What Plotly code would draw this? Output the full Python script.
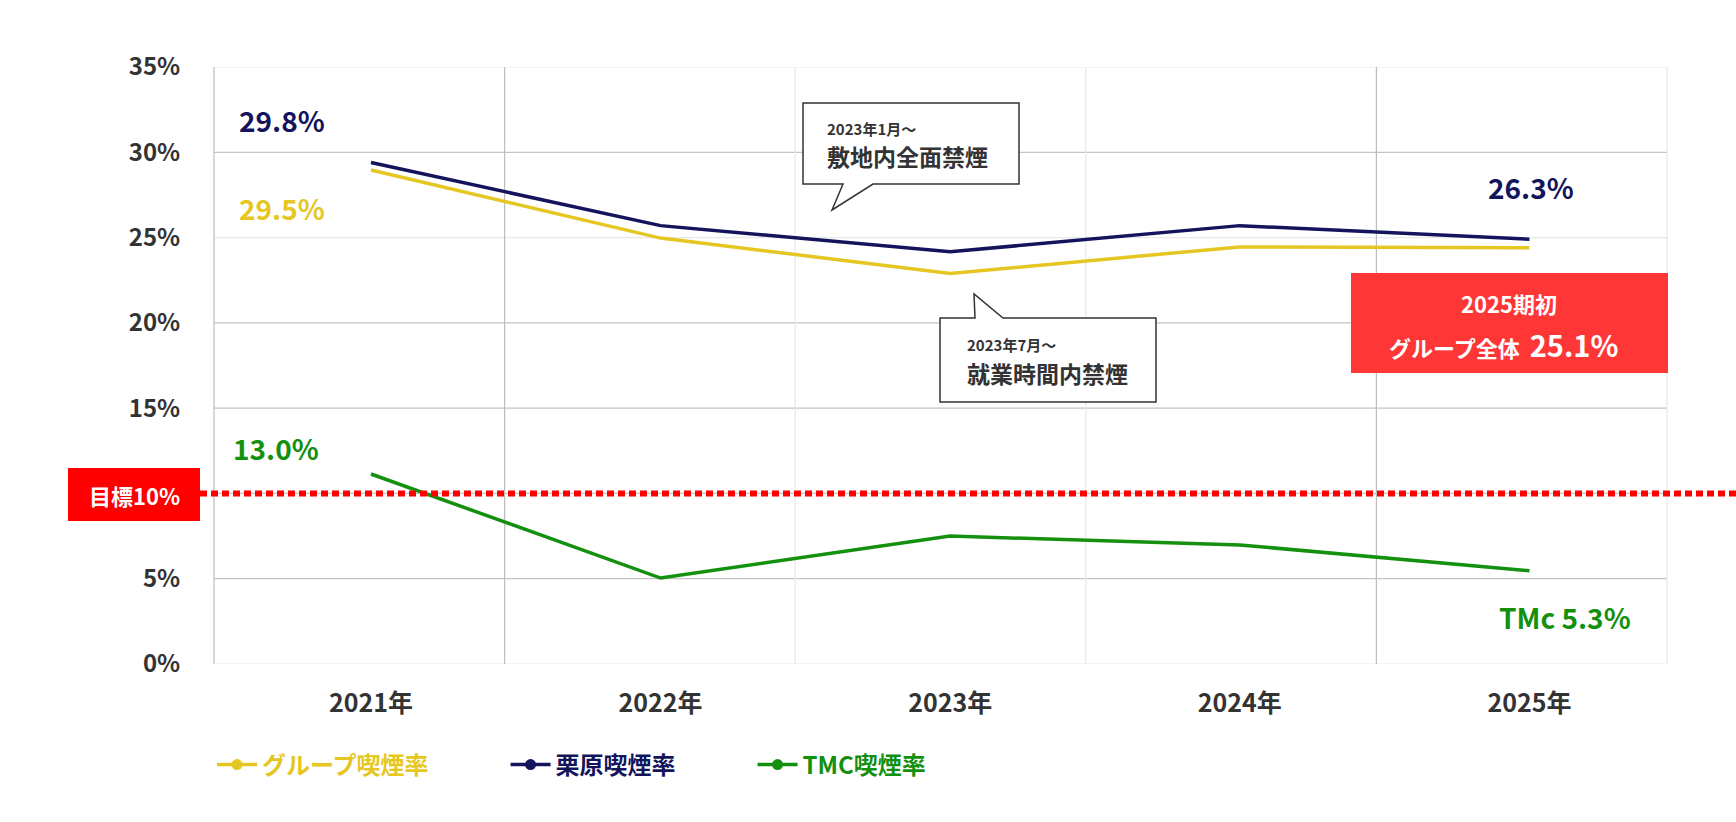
import plotly.graph_objects as go

# ---------------- data ----------------
years = ["2021年", "2022年", "2023年", "2024年", "2025年"]
group_rate = [28.96, 24.97, 22.9, 24.45, 24.4]
kurihara_rate = [29.4, 25.7, 24.17, 25.7, 24.9]
tmc_rate = [11.14, 5.04, 7.5, 6.98, 5.47]
target_rate = 10
grid_vals = [0, 5, 10, 15, 20, 25, 30, 35]
tick_vals = [0, 5, 15, 20, 25, 30, 35]
tick_text = ["0%", "5%", "15%", "20%", "25%", "30%", "35%"]

series_names = ["グループ喫煙率", "栗原喫煙率", "TMC喫煙率"]
colors = ["#e6c622", "#14145c", "#14900f"]

# ---------------- layout geometry (pixels) ----------------
W, H = 1736, 822
L, R, T, B = 214, 1667, 67, 664
FONT = "Noto Sans CJK JP"


def px(x):
    return (x - L) / (R - L)


def py(y):
    return (B - y) / (B - T)


fig = go.Figure()

for name, vals, col in zip(series_names, [group_rate, kurihara_rate, tmc_rate], colors):
    fig.add_trace(go.Scatter(x=years, y=vals, mode="lines", line=dict(color=col, width=3.5),
                             showlegend=False, hoverinfo="skip"))
for name, col in zip(series_names, colors):
    fig.add_trace(go.Scatter(x=[None], y=[None], mode="lines+markers",
                             name=f"<span style='color:{col}'>{name}</span>\u3000\u3000\u3000",
                             line=dict(color=col, width=3.5), marker=dict(color=col, size=11)))

shapes = []
# horizontal grid
for v in grid_vals:
    col = "#e8e8e8" if v in (0, 25, 35) else "#c4c4c4"
    shapes.append(dict(type="line", xref="paper", yref="y", x0=0, x1=1, y0=v, y1=v,
                       line=dict(color=col, width=1.2), layer="below"))
# vertical grid (band boundaries)
for k in range(1, 5):
    col = "#bdbdbd" if k in (1, 4) else "#e8e8e8"
    shapes.append(dict(type="line", xref="paper", yref="paper", x0=k / 5, x1=k / 5, y0=0, y1=1,
                       line=dict(color=col, width=1.2), layer="below"))
# plot borders
shapes.append(dict(type="line", xref="paper", yref="paper", x0=0, x1=0, y0=0, y1=1,
                   line=dict(color="#bdbdbd", width=1.2), layer="below"))
shapes.append(dict(type="line", xref="paper", yref="paper", x0=1, x1=1, y0=0, y1=1,
                   line=dict(color="#e8e8e8", width=1.2), layer="below"))

# target line
shapes.append(dict(type="line", xref="paper", yref="y", x0=px(200), x1=px(1736),
                   y0=target_rate, y1=target_rate,
                   line=dict(color="#ff0000", width=6, dash="7px,4px")))
# target box
shapes.append(dict(type="rect", xref="paper", yref="paper", x0=px(68), x1=px(200),
                   y0=py(521), y1=py(468), fillcolor="#ff0000", line=dict(width=0)))
# 2025 box
shapes.append(dict(type="rect", xref="paper", yref="paper", x0=px(1351), x1=px(1668),
                   y0=py(373), y1=py(273), fillcolor="#fe3636", line=dict(width=0)))


def path(points):
    return "M " + " L ".join(f"{px(x):.5f},{py(y):.5f}" for x, y in points) + " Z"


callout1 = [(803, 103), (1019, 103), (1019, 184), (873, 184), (832, 210), (843, 184), (803, 184)]
callout2 = [(940, 318), (975, 318), (974, 294), (1003, 318), (1156, 318), (1156, 402), (940, 402)]
for pts in (callout1, callout2):
    shapes.append(dict(type="path", xref="paper", yref="paper", path=path(pts),
                       fillcolor="white", line=dict(color="#333333", width=1.5)))

ann = []


def label(text, x, y, color, size, xanchor="center", weight=700):
    ann.append(dict(text=text, x=px(x), y=py(y), xref="paper", yref="paper", showarrow=False,
                    xanchor=xanchor, yanchor="middle",
                    font=dict(family=FONT, size=size, color=color, weight=weight)))


label("29.8%", 282, 120, colors[1], 28)
label("29.5%", 282, 208, colors[0], 28)
label("13.0%", 276, 448, colors[2], 28)
label("26.3%", 1531, 187, colors[1], 28)
label("TMc 5.3%", 1565, 617, colors[2], 28)
label("目標10%", 134, 495, "white", 22)
label("2025期初", 1509, 303, "white", 22)
label("グループ全体  <span style='font-size:29px'>25.1%</span>", 1503, 344, "white", 22)
label("2023年1月～", 825, 128, "#333333", 15, xanchor="left")
label("敷地内全面禁煙", 825, 156, "#333333", 23, xanchor="left")
label("2023年7月～", 965, 344, "#333333", 15, xanchor="left")
label("就業時間内禁煙", 965, 373, "#333333", 23, xanchor="left")

fig.update_layout(
    width=W, height=H,
    margin=dict(l=L, r=W - R, t=T, b=H - B),
    paper_bgcolor="white", plot_bgcolor="white",
    font=dict(family=FONT, color="#333333"),
    shapes=shapes, annotations=ann,
    xaxis=dict(type="category", range=[-0.542, 4.475], showgrid=False, zeroline=False,
               showline=False, ticks="outside", ticklen=17, tickcolor="rgba(0,0,0,0)",
               tickfont=dict(family=FONT, size=25, color="#333333", weight=700)),
    yaxis=dict(range=[0, 35], tickmode="array", tickvals=tick_vals, ticktext=tick_text,
               showgrid=False, zeroline=False,
               showline=False, ticks="outside", ticklen=28, tickcolor="rgba(0,0,0,0)",
               tickfont=dict(family=FONT, size=24, color="#333333", weight=700)),
    legend=dict(orientation="h", x=px(212), y=py(765), xanchor="left", yanchor="middle",
                itemwidth=40,
                font=dict(family=FONT, size=24, weight=700), bgcolor="rgba(0,0,0,0)"),
    hovermode=False,
)

fig.write_html("out.html")
